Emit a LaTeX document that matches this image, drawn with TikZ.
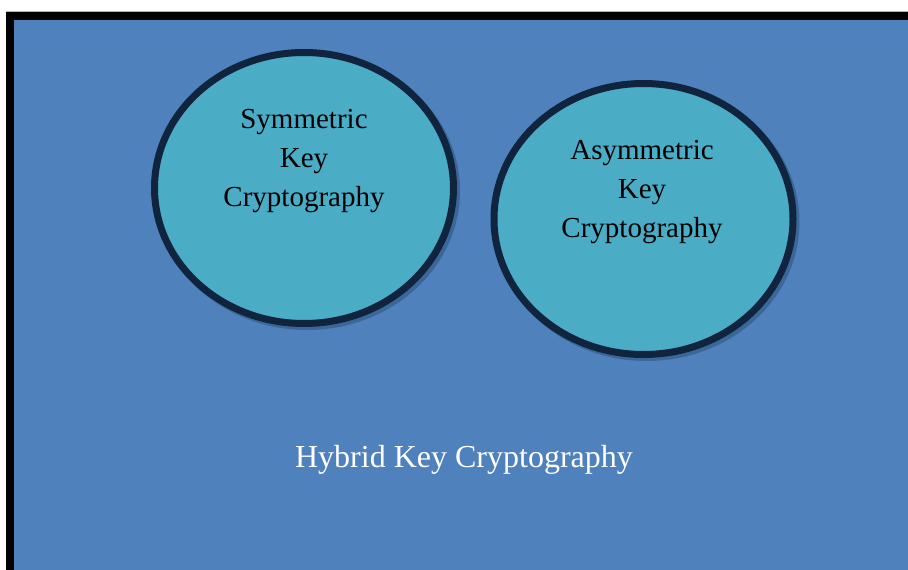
\documentclass[tikz,border=0pt]{standalone}
\usepackage{fontspec}
\setmainfont{Liberation Serif}
\usetikzlibrary{shapes.geometric}
\definecolor{bgblue}{HTML}{4F81BD}
\definecolor{ellfill}{HTML}{4BACC6}
\definecolor{ellline}{HTML}{10243E}
\definecolor{shadowc}{HTML}{3A6798}
\tikzset{
  keyellipse/.style={ellipse, draw=ellline, fill=ellfill, line width=7pt,
    minimum width=299pt, minimum height=271pt, inner sep=0pt},
  ellshadow/.style={ellipse, fill=shadowc, minimum width=306pt, minimum height=278pt, inner sep=0pt},
  keytext/.style={align=center, font=\fontsize{29}{39}\selectfont, text=black},
  hybridtext/.style={font=\fontsize{32}{38}\selectfont, text=white}
}
\begin{document}
\begin{tikzpicture}[x=1pt,y=1pt]
\useasboundingbox (0,0) rectangle (908,-570);
\fill[gray!60] (6,-11) rectangle (908,-12.5);
\fill[black] (6,-12) rectangle (908,-570);
\fill[bgblue] (14,-20) rectangle (908,-570);
\node[ellshadow] (shs) at (307,-191) {};
\node[ellshadow] (sha) at (646.5,-222) {};
\node[keyellipse] (sym) at (304,-188) {};
\node[keyellipse] (asym) at (643.5,-219) {};
\node[keytext] (symt) at (304,-161) {Symmetric\\Key\\Cryptography};
\node[keytext] (asymt) at (642,-192) {Asymmetric\\Key\\Cryptography};
\node[hybridtext] (hyb) at (464,-460) {Hybrid Key Cryptography};
\end{tikzpicture}
\end{document}
